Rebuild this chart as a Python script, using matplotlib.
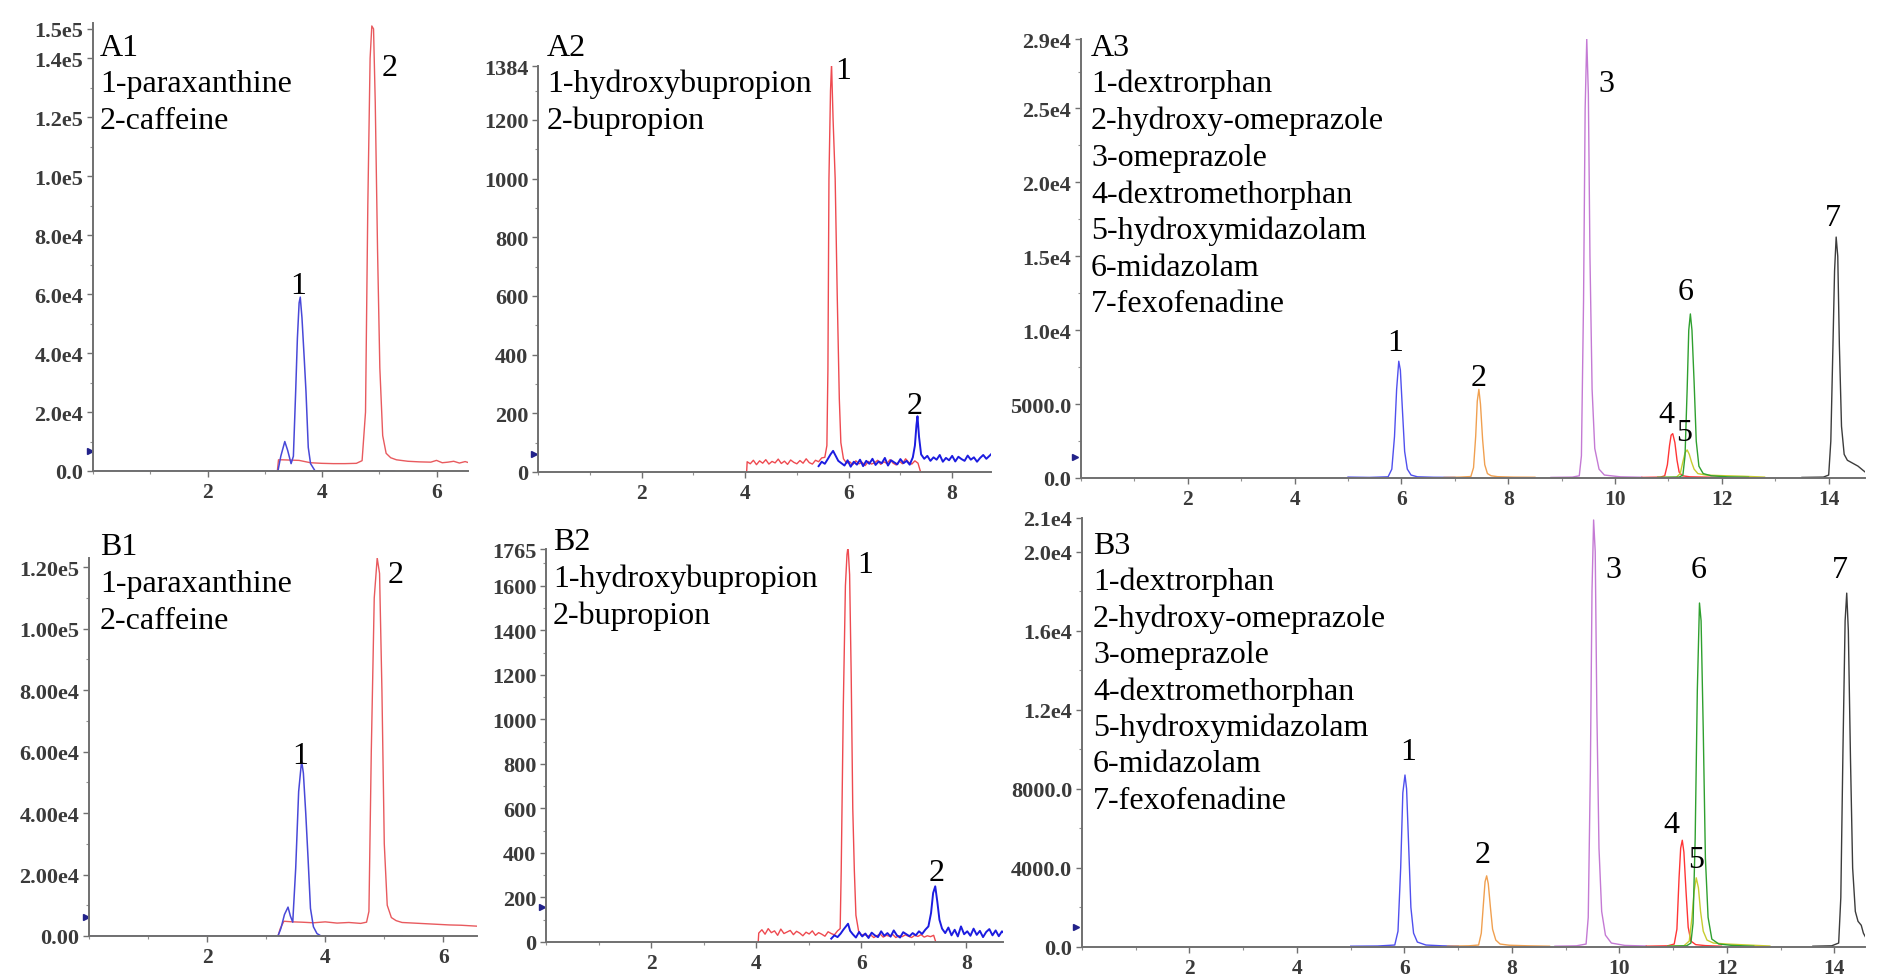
import matplotlib
matplotlib.use("Agg")
import matplotlib.pyplot as plt
from matplotlib.ticker import MultipleLocator

plt.rcParams['font.family'] = ['Liberation Serif', 'DejaVu Serif']

# --- Data (time in min, intensity in counts) ---

# A1: paraxanthine (blue) / caffeine (red)
a1_blue_t = [0, 3.23, 3.28, 3.35, 3.40, 3.46, 3.50, 3.54, 3.57, 3.60, 3.62, 3.65, 3.69, 3.72, 3.76, 3.80, 3.88, 5.27]
a1_blue_y = [0, 0, 5000, 10000, 7000, 2500, 5000, 27000, 45000, 57000, 59000, 52000, 38000, 27000, 8000, 2500, 0, 0]
a1_red_t = [3.22, 3.24, 3.30, 3.45, 3.60, 3.80, 4.00, 4.20, 4.40, 4.60, 4.70, 4.76, 4.80, 4.84, 4.87, 4.90,
            4.93, 4.97, 5.01, 5.06, 5.12, 5.20, 5.30, 5.50, 5.70, 5.90, 6.00, 6.10, 6.20, 6.30, 6.40, 6.50, 6.55]
a1_red_y = [0, 3800, 3800, 3700, 3600, 2800, 2600, 2500, 2500, 2600, 3500, 20000, 90000, 140000, 151000, 150000,
            125000, 75000, 35000, 12000, 6000, 4500, 3800, 3300, 3100, 3000, 3600, 2800, 3000, 3300, 2700, 3200, 2900]

# A2: hydroxybupropion (red) / bupropion (blue)
a2_red_t = [4.03, 4.04, 4.10, 4.16, 4.22, 4.28, 4.34, 4.40, 4.46, 4.52, 4.58, 4.64, 4.70, 4.76, 4.82, 4.88,
            4.94, 5.00, 5.06, 5.12, 5.18, 5.24, 5.30, 5.36, 5.42, 5.48, 5.54, 5.58, 5.60, 5.62, 5.65, 5.67,
            5.70, 5.74, 5.78, 5.82, 5.85, 5.90, 5.96, 6.02, 6.08, 6.14, 6.20, 6.26, 6.32, 6.38, 6.44, 6.50,
            6.56, 6.62, 6.68, 6.74, 6.80, 6.86, 6.92, 6.98, 7.04, 7.10, 7.16, 7.22, 7.28, 7.34, 7.39]
a2_red_y = [0, 35, 28, 40, 25, 38, 30, 42, 27, 36, 31, 44, 29, 37, 26, 41,
            33, 28, 39, 30, 45, 32, 27, 40, 35, 48, 50, 90, 350, 1000, 1300, 1390,
            1200, 1000, 600, 250, 100, 45, 30, 35, 25, 38, 28, 33, 22, 36, 27, 31,
            40, 26, 35, 29, 42, 30, 24, 37, 28, 45, 33, 27, 38, 30, 0]
a2_blue_t = [5.42, 5.48, 5.54, 5.60, 5.65, 5.70, 5.75, 5.80, 5.86, 5.92, 5.98, 6.04, 6.10, 6.16, 6.22, 6.28,
             6.34, 6.40, 6.46, 6.52, 6.58, 6.64, 6.70, 6.76, 6.82, 6.88, 6.94, 7.00, 7.06, 7.12, 7.18, 7.24,
             7.28, 7.31, 7.33, 7.36, 7.40, 7.46, 7.52, 7.58, 7.64, 7.70, 7.76, 7.82, 7.88, 7.94, 8.00, 8.06,
             8.12, 8.18, 8.24, 8.30, 8.36, 8.42, 8.48, 8.54, 8.60, 8.66, 8.72, 8.76]
a2_blue_y = [20, 35, 28, 45, 60, 72, 55, 38, 30, 22, 40, 18, 35, 25, 42, 20,
             38, 28, 45, 24, 36, 30, 48, 22, 40, 33, 26, 44, 30, 38, 25, 50,
             90, 160, 190, 120, 60, 45, 55, 38, 50, 42, 58, 35, 48, 40, 55, 36,
             52, 44, 38, 56, 42, 50, 35, 48, 58, 45, 55, 62]

# A3: cocktail probes, one trace per analyte
a3_t = [
    [5.0, 5.4, 5.75, 5.82, 5.87, 5.91, 5.95, 5.98, 6.02, 6.06, 6.11, 6.18, 6.3, 6.6, 7.0],
    [6.8, 7.1, 7.30, 7.35, 7.39, 7.42, 7.45, 7.48, 7.52, 7.56, 7.61, 7.68, 7.8, 8.1, 8.5],
    [8.8, 9.2, 9.33, 9.37, 9.41, 9.44, 9.47, 9.50, 9.53, 9.57, 9.62, 9.70, 9.80, 10.1, 10.5],
    [10.5, 10.85, 10.93, 10.98, 11.02, 11.05, 11.08, 11.12, 11.16, 11.20, 11.26, 11.4, 11.7, 12.0],
    [10.8, 11.15, 11.22, 11.27, 11.31, 11.35, 11.39, 11.43, 11.48, 11.55, 11.7, 12.0, 12.4, 12.8],
    [10.8, 11.2, 11.27, 11.31, 11.35, 11.38, 11.41, 11.44, 11.48, 11.52, 11.57, 11.65, 11.8, 12.1, 12.5],
    [13.5, 13.9, 14.00, 14.04, 14.08, 14.11, 14.14, 14.17, 14.20, 14.24, 14.29, 14.35, 14.45, 14.55, 14.65, 14.72],
]
a3_y = [
    [60, 40, 80, 600, 2800, 6000, 7900, 7300, 4500, 1800, 600, 200, 80, 50, 40],
    [40, 60, 100, 700, 2800, 5200, 6000, 5000, 2600, 900, 300, 150, 90, 60, 50],
    [40, 60, 150, 1500, 12000, 25000, 29700, 26000, 15000, 6000, 2000, 600, 200, 80, 50],
    [40, 60, 150, 900, 2200, 2900, 3000, 2400, 1200, 400, 150, 80, 60, 40],
    [40, 60, 300, 1100, 1700, 1900, 1600, 1100, 600, 300, 200, 160, 120, 60],
    [40, 60, 200, 1500, 6000, 10000, 11100, 10000, 6500, 2500, 800, 300, 150, 80, 50],
    [40, 60, 200, 2500, 9000, 14000, 16300, 15000, 9000, 3500, 1600, 1200, 1000, 800, 500, 300],
]

# B1
b1_blue_t = [0, 3.20, 3.25, 3.31, 3.37, 3.41, 3.45, 3.50, 3.55, 3.60, 3.63, 3.67, 3.71, 3.75, 3.80, 3.86, 3.93, 5.30]
b1_blue_y = [0, 0, 2500, 7000, 9400, 6500, 4500, 22000, 47000, 57000, 53000, 40000, 25000, 9000, 3000, 800, 0, 0]
b1_red_t = [3.20, 3.24, 3.30, 3.45, 3.60, 3.80, 4.00, 4.20, 4.40, 4.60, 4.70, 4.74, 4.78, 4.83, 4.88, 4.92,
            4.96, 5.00, 5.05, 5.12, 5.20, 5.30, 5.50, 5.70, 5.90, 6.10, 6.30, 6.57]
b1_red_y = [0, 2500, 4800, 4600, 4500, 4300, 4600, 4200, 4400, 4100, 4500, 8000, 60000, 110000, 123000, 118000,
            80000, 30000, 10000, 6000, 5000, 4400, 4200, 4000, 3800, 3600, 3500, 3200]

# B2
b2_red_t = [4.04, 4.05, 4.11, 4.17, 4.23, 4.29, 4.35, 4.41, 4.47, 4.53, 4.59, 4.65, 4.71, 4.77, 4.83, 4.89,
            4.95, 5.01, 5.07, 5.13, 5.19, 5.25, 5.31, 5.37, 5.43, 5.49, 5.55, 5.60, 5.62, 5.66, 5.70, 5.73,
            5.75, 5.78, 5.81, 5.84, 5.87, 5.90, 5.95, 6.00, 6.06, 6.12, 6.18, 6.24, 6.30, 6.36, 6.42, 6.48,
            6.54, 6.60, 6.66, 6.72, 6.78, 6.84, 6.90, 6.96, 7.02, 7.08, 7.14, 7.20, 7.26, 7.32, 7.38, 7.42]
b2_red_y = [0, 40, 55, 35, 60, 42, 50, 30, 58, 38, 45, 52, 33, 48, 40, 28,
            44, 36, 50, 30, 42, 35, 26, 46, 38, 32, 50, 60, 320, 1060, 1600, 1740,
            1775, 1650, 1200, 600, 320, 120, 50, 30, 35, 25, 32, 20, 28, 36, 22, 30,
            26, 34, 20, 28, 24, 32, 26, 20, 30, 25, 33, 22, 28, 24, 30, 0]
b2_blue_t = [5.43, 5.49, 5.55, 5.61, 5.66, 5.71, 5.75, 5.79, 5.84, 5.90, 5.96, 6.02, 6.08, 6.14, 6.20, 6.26,
             6.32, 6.38, 6.44, 6.50, 6.56, 6.62, 6.68, 6.74, 6.80, 6.86, 6.92, 6.98, 7.04, 7.10, 7.16, 7.22,
             7.28, 7.33, 7.37, 7.41, 7.45, 7.49, 7.54, 7.60, 7.66, 7.72, 7.78, 7.84, 7.90, 7.96, 8.02, 8.08,
             8.14, 8.20, 8.26, 8.32, 8.38, 8.44, 8.50, 8.56, 8.62, 8.68, 8.72]
b2_blue_y = [15, 30, 22, 38, 55, 70, 82, 50, 35, 20, 45, 25, 38, 18, 42, 30,
             22, 48, 28, 40, 24, 52, 30, 20, 44, 35, 26, 40, 30, 48, 36, 55,
             70, 130, 220, 250, 180, 100, 60, 40, 65, 30, 55, 25, 70, 35, 48, 28,
             60, 32, 50, 22, 45, 58, 30, 52, 26, 48, 40]

# B3
b3_t = [
    [5.0, 5.5, 5.82, 5.88, 5.93, 5.97, 6.01, 6.04, 6.08, 6.12, 6.17, 6.24, 6.4, 6.7, 7.0],
    [6.8, 7.2, 7.38, 7.43, 7.47, 7.50, 7.53, 7.56, 7.60, 7.64, 7.70, 7.78, 7.95, 8.3, 8.7],
    [8.8, 9.2, 9.38, 9.42, 9.46, 9.49, 9.52, 9.55, 9.58, 9.62, 9.67, 9.74, 9.85, 10.1, 10.5],
    [10.5, 10.9, 11.02, 11.07, 11.11, 11.14, 11.17, 11.20, 11.24, 11.28, 11.33, 11.42, 11.6, 11.9],
    [10.9, 11.2, 11.30, 11.35, 11.39, 11.43, 11.47, 11.51, 11.56, 11.63, 11.75, 12.0, 12.4, 12.8],
    [10.9, 11.25, 11.33, 11.37, 11.41, 11.45, 11.49, 11.52, 11.56, 11.60, 11.65, 11.72, 11.85, 12.1, 12.5],
    [13.6, 13.95, 14.08, 14.12, 14.16, 14.20, 14.23, 14.26, 14.30, 14.34, 14.39, 14.44, 14.50, 14.54, 14.60],
]
b3_y = [
    [40, 50, 100, 800, 4000, 7800, 8700, 8000, 5000, 2000, 700, 250, 100, 60, 40],
    [40, 60, 100, 700, 2200, 3300, 3600, 3200, 2000, 900, 350, 150, 90, 60, 40],
    [40, 60, 150, 1500, 9000, 18000, 21600, 20000, 12000, 5000, 1800, 600, 200, 80, 50],
    [40, 60, 150, 900, 3500, 5000, 5400, 4800, 2800, 1000, 300, 120, 70, 40],
    [40, 60, 300, 1500, 2800, 3500, 3000, 1800, 800, 350, 200, 150, 100, 50],
    [40, 60, 200, 1200, 5500, 13000, 17400, 16500, 11000, 4500, 1500, 400, 150, 80, 40],
    [40, 60, 200, 2500, 10000, 16500, 17900, 16000, 9500, 4000, 1800, 1300, 1100, 700, 400],
]

cocktail_colors = ['#5050ee', '#f0a050', '#c47ad4', '#ff3535', '#c8cc30', '#2fa02f', '#3c3c3c']

# axis tick values / labels
a1_yticks = [0, 20000, 40000, 60000, 80000, 100000, 120000, 140000, 150000]
a1_ylabels = ['0.0', '2.0e4', '4.0e4', '6.0e4', '8.0e4', '1.0e5', '1.2e5', '1.4e5', '1.5e5']
a2_yticks = [0, 200, 400, 600, 800, 1000, 1200, 1384]
a2_ylabels = ['0', '200', '400', '600', '800', '1000', '1200', '1384']
a3_yticks = [0, 5000, 10000, 15000, 20000, 25000, 29700]
a3_ylabels = ['0.0', '5000.0', '1.0e4', '1.5e4', '2.0e4', '2.5e4', '2.9e4']
b1_yticks = [0, 20000, 40000, 60000, 80000, 100000, 120000]
b1_ylabels = ['0.00', '2.00e4', '4.00e4', '6.00e4', '8.00e4', '1.00e5', '1.20e5']
b2_yticks = [0, 200, 400, 600, 800, 1000, 1200, 1400, 1600, 1765]
b2_ylabels = ['0', '200', '400', '600', '800', '1000', '1200', '1400', '1600', '1765']
b3_yticks = [0, 4000, 8000, 12000, 16000, 20000, 21700]
b3_ylabels = ['0.0', '4000.0', '8000.0', '1.2e4', '1.6e4', '2.0e4', '2.1e4']

legend_1 = ['1-paraxanthine', '2-caffeine']
legend_2 = ['1-hydroxybupropion', '2-bupropion']
legend_3 = ['1-dextrorphan', '2-hydroxy-omeprazole', '3-omeprazole', '4-dextromethorphan',
            '5-hydroxymidazolam', '6-midazolam', '7-fexofenadine']

W, H = 1878, 979
FS = 23
fig = plt.figure(figsize=(W / 100, H / 100), dpi=100)
fig.set_facecolor('white')


def make_axes(left, right, top, bottom, xlim, ylim, xticks, yticks, ylabels, yminor):
    ax = fig.add_axes([left / W, 1 - bottom / H, (right - left) / W, (bottom - top) / H])
    ax.set_xlim(*xlim)
    ax.set_ylim(*ylim)
    for s in ['top', 'right']:
        ax.spines[s].set_visible(False)
    for s in ['left', 'bottom']:
        ax.spines[s].set_color('#707070')
        ax.spines[s].set_linewidth(1.4)
    ax.set_xticks(xticks)
    ax.set_xticklabels([str(v) for v in xticks])
    ax.set_yticks(yticks)
    ax.set_yticklabels(ylabels)
    ax.xaxis.set_minor_locator(MultipleLocator(1))
    ax.yaxis.set_minor_locator(MultipleLocator(yminor))
    ax.tick_params(which='major', length=4, width=1.0, color='#707070')
    ax.tick_params(which='minor', length=2, width=0.8, color='#909090')
    ax.tick_params(axis='x', pad=4)
    ax.tick_params(axis='y', pad=3)
    for lab in ax.get_xticklabels():
        lab.set_fontsize(15.5)
        lab.set_fontweight('bold')
        lab.set_color('#3a3a3a')
    for lab in ax.get_yticklabels():
        lab.set_fontsize(16)
        lab.set_fontweight('bold')
        lab.set_color('#3a3a3a')
    return ax


def marker(ax, yval):
    ax.plot([-0.008], [yval], marker='>', ms=5, color='#22228a',
            transform=ax.get_yaxis_transform(), clip_on=False)


def text_block(x, y, lines, step=36.7):
    for i, s in enumerate(lines):
        fig.text(x / W, 1 - (y + i * step) / H, s, fontsize=FS, ha='left', va='center', color='black')


# ---- A1 ----
ax = make_axes(93, 468, 24, 472, (0, 6.55), (0, 152000), [2, 4, 6], a1_yticks, a1_ylabels, 10000)
ax.plot(a1_red_t, a1_red_y, color='#e85a5e', lw=1.0)
ax.plot(a1_blue_t, a1_blue_y, color='#4848d8', lw=1.1)
ax.text(3.58, 63000, '1', fontsize=FS, ha='center', va='center')
ax.text(5.18, 137000, '2', fontsize=FS, ha='center', va='center')
marker(ax, 6800)
text_block(100, 48, ['A1'] + legend_1)

# ---- A2 ----
ax = make_axes(538, 991, 67, 473, (0, 8.75), (0, 1384), [2, 4, 6, 8], a2_yticks, a2_ylabels, 100)
ax.plot(a2_red_t, a2_red_y, color='#ee4a50', lw=1.0)
ax.plot(a2_blue_t, a2_blue_y, color='#1c1ce0', lw=1.4)
ax.text(5.9, 1367, '1', fontsize=FS, ha='center', va='center')
ax.text(7.27, 225, '2', fontsize=FS, ha='center', va='center')
marker(ax, 60)
text_block(547, 48, ['A2'] + legend_2)

# ---- A3 ----
ax = make_axes(1081, 1865, 40, 479, (0, 14.68), (0, 29700), [2, 4, 6, 8, 10, 12, 14], a3_yticks, a3_ylabels, 2500)
for t, y, c in zip(a3_t, a3_y, cocktail_colors):
    ax.plot(t, y, color=c, lw=1.0)
for lab, (x, y) in zip('1234567', [(5.88, 9200), (7.45, 6800), (9.84, 26700), (10.97, 4300),
                                    (11.30, 3100), (11.33, 12600), (14.08, 17600)]):
    ax.text(x, y, lab, fontsize=FS, ha='center', va='center')
marker(ax, 1400)
text_block(1091, 48, ['A3'] + legend_3)

# ---- B1 ----
ax = make_axes(89, 477, 559, 937, (0, 6.57), (0, 123000), [2, 4, 6], b1_yticks, b1_ylabels, 10000)
ax.plot(b1_red_t, b1_red_y, color='#e85a5e', lw=1.0)
ax.plot(b1_blue_t, b1_blue_y, color='#4848d8', lw=1.1)
ax.text(3.58, 58700, '1', fontsize=FS, ha='center', va='center')
ax.text(5.19, 117700, '2', fontsize=FS, ha='center', va='center')
marker(ax, 6100)
text_block(100, 548, ['B1'] + legend_1)

# ---- B2 ----
ax = make_axes(546, 1003, 550, 943, (0, 8.7), (0, 1765), [2, 4, 6, 8], b2_yticks, b2_ylabels, 100)
ax.plot(b2_red_t, b2_red_y, color='#ee4a50', lw=1.0)
ax.plot(b2_blue_t, b2_blue_y, color='#1c1ce0', lw=1.4)
ax.text(6.08, 1697, '1', fontsize=FS, ha='center', va='center')
ax.text(7.43, 314, '2', fontsize=FS, ha='center', va='center')
marker(ax, 157)
text_block(553, 543, ['B2'] + legend_2)

# ---- B3 ----
ax = make_axes(1082, 1865, 519, 948, (0, 14.57), (0, 21700), [2, 4, 6, 8, 10, 12, 14], b3_yticks, b3_ylabels, 2000)
for t, y, c in zip(b3_t, b3_y, cocktail_colors):
    ax.plot(t, y, color=c, lw=1.0)
for lab, (x, y) in zip('1234567', [(6.07, 9900), (7.46, 4700), (9.89, 19100), (10.97, 6200),
                                    (11.42, 4450), (11.47, 19100), (14.10, 19100)]):
    ax.text(x, y, lab, fontsize=FS, ha='center', va='center')
marker(ax, 1000)
text_block(1093, 546, ['B3'] + legend_3, step=36.5)

fig.savefig('out.png', dpi=100, facecolor='white')
plt.close(fig)
